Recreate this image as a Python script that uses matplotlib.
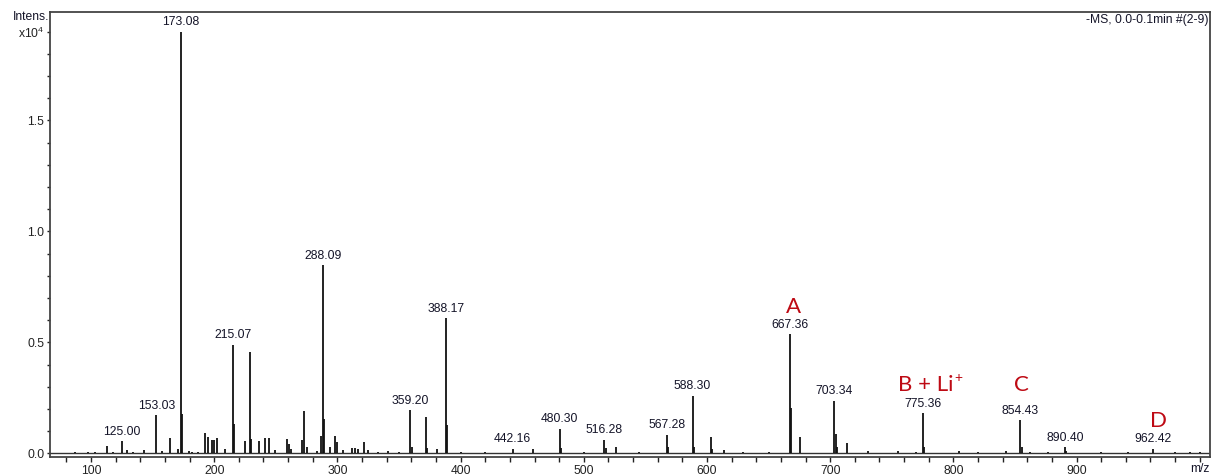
import matplotlib
matplotlib.use('Agg')
import matplotlib.pyplot as plt
from matplotlib.ticker import MultipleLocator

plt.rcParams['font.family'] = ['Liberation Sans', 'DejaVu Sans']
plt.rcParams['mathtext.fontset'] = 'custom'
plt.rcParams['mathtext.rm'] = 'Liberation Sans'
plt.rcParams['mathtext.it'] = 'Liberation Sans:italic'
plt.rcParams['mathtext.default'] = 'regular'

# ---- data (intensity in units of 1e4) ----
peak_mz = [87.0, 97.6, 103.0, 112.7, 118.0, 125.00, 129.0, 134.0, 142.6, 153.03,
           158.0, 164.1, 170.4, 173.08, 174.1, 179.5, 182.0, 187.0, 192.5, 195.0,
           198.5, 200.0, 202.0, 208.8, 215.07, 216.1, 225.2, 229.1, 230.1, 236.4,
           241.2, 244.2, 249.4, 258.8, 260.5, 262.0, 271.0, 272.9, 275.0, 283.2,
           286.7, 288.09, 289.1, 294.0, 298.0, 299.4, 304.3, 311.6, 314.3, 316.5,
           321.6, 325.0, 333.0, 341.3, 350.0, 359.20, 360.2, 372.0, 373.0, 380.6,
           388.17, 389.2, 400.0, 420.0, 442.16, 459.0, 480.30, 481.3, 500.0, 516.28,
           518.0, 526.0, 545.0, 567.28, 568.3, 588.30, 589.3, 603.2, 604.2, 613.8,
           629.5, 650.0, 667.36, 668.4, 675.5, 703.34, 704.4, 705.4, 713.9, 731.0,
           755.3, 769.6, 775.36, 776.4, 804.5, 820.0, 842.7, 854.43, 855.4, 862.0,
           877.0, 890.40, 891.4, 920.0, 942.0, 962.42, 980.0, 992.0, 1000.0]
peak_int = [0.005, 0.006, 0.005, 0.033, 0.008, 0.054, 0.015, 0.008, 0.015, 0.171,
            0.010, 0.070, 0.020, 1.900, 0.175, 0.010, 0.008, 0.006, 0.091, 0.073,
            0.059, 0.060, 0.068, 0.020, 0.490, 0.130, 0.054, 0.455, 0.063, 0.054,
            0.070, 0.070, 0.015, 0.063, 0.040, 0.020, 0.060, 0.190, 0.030, 0.010,
            0.078, 0.847, 0.154, 0.030, 0.078, 0.050, 0.015, 0.025, 0.025, 0.020,
            0.050, 0.015, 0.008, 0.010, 0.006, 0.194, 0.030, 0.165, 0.025, 0.020,
            0.608, 0.127, 0.006, 0.006, 0.021, 0.020, 0.111, 0.025, 0.006, 0.062,
            0.025, 0.027, 0.006, 0.084, 0.030, 0.260, 0.030, 0.072, 0.020, 0.015,
            0.006, 0.005, 0.536, 0.205, 0.072, 0.236, 0.087, 0.030, 0.045, 0.010,
            0.012, 0.008, 0.180, 0.030, 0.010, 0.006, 0.010, 0.149, 0.030, 0.008,
            0.006, 0.028, 0.010, 0.005, 0.006, 0.021, 0.005, 0.008, 0.005]

label_mz = [125.00, 153.03, 173.08, 215.07, 288.09, 359.20, 388.17, 442.16, 480.30,
            516.28, 567.28, 588.30, 667.36, 703.34, 775.36, 854.43, 890.40, 962.42]

compound_names = ["A", "B + Li", "C", "D"]
compound_sup = ["", "+", "", ""]
compound_mz = [670.6, 755.3, 854.9, 966.9]
compound_y = [0.632, 0.282, 0.282, 0.120]
compound_ha = ["center", "left", "center", "center"]

x_major = [100, 200, 300, 400, 500, 600, 700, 800, 900]
y_major = [0.0, 0.5, 1.0, 1.5, 1.9]
y_labels = ["0.0", "0.5", "1.0", "1.5", "x10$^4$"]

FS = 8.7
TXT = '#141428'
RED = '#BE0A14'

# ---- figure ----
W, H = 1211, 476
fig = plt.figure(figsize=(W / 100, H / 100), dpi=100)
ax = fig.add_axes([50 / W, 19 / H, 1160 / W, 445 / H])

ax.axhline(0, color='#333333', lw=1.0, zorder=1)
ax.vlines(peak_mz, 0, peak_int, color='#111111', lw=1.3, zorder=2)

for m in label_mz:
    i = min(range(len(peak_mz)), key=lambda k: abs(peak_mz[k] - m))
    ax.annotate(f"{m:.2f}", xy=(m, peak_int[i]), xytext=(0, 2.5),
                textcoords='offset points', ha='center', va='bottom',
                fontsize=FS, color=TXT)

for name, sup, x, y, ha in zip(compound_names, compound_sup, compound_mz,
                               compound_y, compound_ha):
    t = ax.text(x, y, name, ha=ha, va='baseline', fontsize=16, color=RED,
                family=['Lato', 'DejaVu Sans'])
    if sup:
        ax.annotate(sup, xy=(1.0, 1.0), xycoords=t, xytext=(0.5, -2.2),
                    textcoords='offset points', ha='left', va='center',
                    fontsize=10, color=RED, family=['Lato', 'DejaVu Sans'])

ax.set_xlim(66.7, 1008.3)
ax.set_ylim(-0.0167, 1.988)
ax.set_xticks(x_major)
ax.xaxis.set_minor_locator(MultipleLocator(20))
ax.set_yticks(y_major)
ax.set_yticklabels(y_labels)
ax.yaxis.set_minor_locator(MultipleLocator(0.1))

ax.tick_params(axis='x', which='both', direction='out', length=3.6, width=1.0,
               pad=2, labelsize=FS, colors='#222222')
ax.tick_params(axis='y', which='both', direction='out', length=2.5, width=1.0,
               pad=1.5, labelsize=FS, colors='#222222')

for s in ax.spines.values():
    s.set_color('#444444')
    s.set_linewidth(1.3)

ax.text(0.999, 0.982, "-MS, 0.0-0.1min #(2-9)", transform=ax.transAxes,
        ha='right', va='center', fontsize=FS, color=TXT)
fig.text(49 / W, 1 - 17 / H, "Intens.", ha='right', va='center',
         fontsize=FS, color=TXT)
fig.text(1200 / W, 1 - 469 / H, "m/z", ha='center', va='center',
         fontsize=FS, color=TXT)

fig.savefig('out.png', dpi=100)
